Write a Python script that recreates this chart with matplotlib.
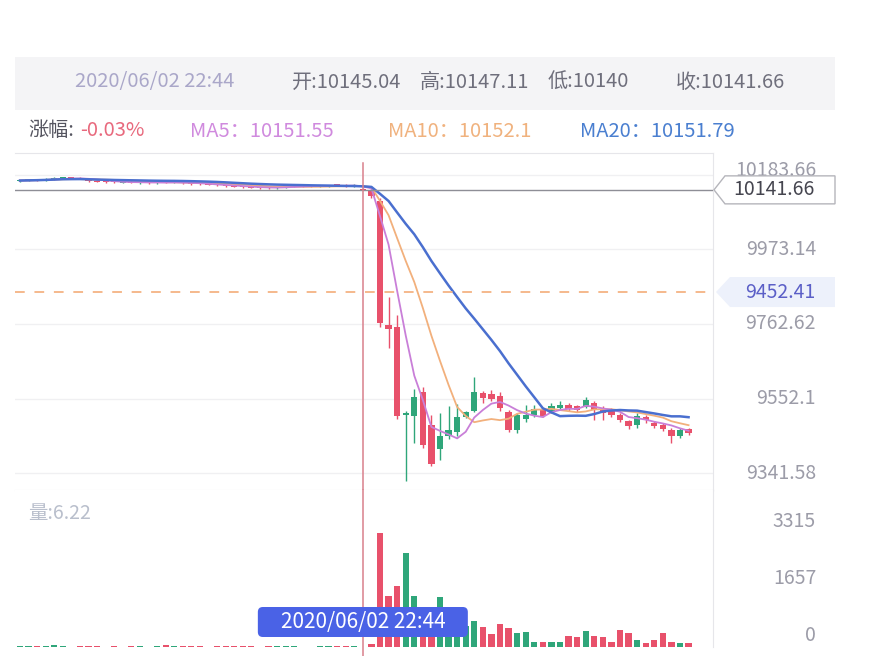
import matplotlib
matplotlib.use("Agg")
import matplotlib.pyplot as plt
from matplotlib.patches import Rectangle, Polygon, FancyBboxPatch
from matplotlib.transforms import IdentityTransform, blended_transform_factory
import pandas as pd

plt.rcParams['font.family'] = ['Noto Sans CJK SC', 'DejaVu Sans']

W, H = 880, 656
RED = "#e8516b"; GREEN = "#2fa67a"
MA5C = "#c97fd8"; MA10C = "#f2b07c"; MA20C = "#4a6fcf"
GRID = "#f0f0f2"; SEP = "#e6e6ea"; AXTXT = "#9c9ca8"

# ---- 1-minute candles (index 40 = crosshair 22:44) ----
opens = [10167, 10168, 10171, 10170, 10172, 10175, 10177, 10175, 10170, 10167,
         10166, 10165, 10162, 10165, 10161, 10164, 10160, 10164, 10162, 10163,
         10161, 10159, 10158, 10156, 10154, 10152, 10151, 10150, 10149, 10148,
         10147, 10150, 10152, 10155, 10154, 10151, 10152, 10155, 10155, 10153,
         10145.04, 10141.66,
         10110, 9760, 9755, 9505, 9504, 9570, 9476, 9410, 9445, 9457,
         9500, 9517, 9567, 9566, 9558, 9515, 9462, 9495, 9506, 9521,
         9514, 9525, 9535, 9530, 9528, 9540, 9520, 9518, 9505, 9488,
         9476, 9500, 9482, 9478, 9462, 9447, 9466]
highs = [10170, 10171, 10173, 10174, 10177, 10178, 10179, 10177, 10172, 10169,
         10168, 10167, 10166, 10167, 10165, 10166, 10164, 10166, 10166, 10165,
         10163, 10161, 10160, 10158, 10156, 10154, 10153, 10152, 10151, 10150,
         10151, 10155, 10156, 10157, 10156, 10155, 10156, 10157, 10157, 10157,
         10147.11, 10143,
         10120, 9840, 9788, 9518, 9580, 9585, 9505, 9510, 9532, 9537,
         9518, 9614, 9572, 9575, 9570, 9520, 9512, 9535, 9535, 9526,
         9540, 9545, 9540, 9535, 9555, 9546, 9530, 9524, 9510, 9492,
         9512, 9505, 9488, 9482, 9468, 9468, 9470]
lows = [10165, 10166, 10168, 10168, 10170, 10173, 10172, 10171, 10164, 10163,
        10162, 10161, 10160, 10160, 10159, 10159, 10158, 10161, 10160, 10158,
        10156, 10155, 10154, 10152, 10150, 10149, 10147, 10146, 10145, 10145,
        10145, 10148, 10150, 10151, 10150, 10149, 10150, 10152, 10151, 10151,
        10140, 10118,
        9755, 9695, 9495, 9318, 9425, 9413, 9362, 9378, 9438, 9447,
        9497, 9514, 9540, 9545, 9518, 9458, 9455, 9487, 9500, 9500,
        9510, 9520, 9518, 9515, 9525, 9490, 9492, 9500, 9485, 9465,
        9470, 9484, 9470, 9460, 9425, 9440, 9450]
closes = [10168, 10169, 10170, 10172, 10175, 10176, 10174, 10173, 10166, 10165,
          10164, 10163, 10164, 10162, 10163, 10161, 10162, 10163, 10164, 10160,
          10158, 10157, 10156, 10154, 10152, 10151, 10149, 10148, 10147, 10147,
          10149, 10153, 10154, 10153, 10152, 10153, 10154, 10154, 10153, 10155,
          10141.66, 10125,
          9765, 9748, 9503, 9512, 9556, 9420, 9368, 9447, 9462, 9500,
          9513, 9570, 9553, 9552, 9524, 9462, 9505, 9505, 9522, 9504,
          9532, 9535, 9522, 9520, 9548, 9520, 9510, 9505, 9490, 9474,
          9503, 9490, 9475, 9466, 9446, 9462, 9456]
volumes = [22, 15, 30, 18, 45, 25, 12, 20, 35, 16,
           14, 28, 10, 19, 24, 12, 30, 52, 15, 20,
           18, 26, 14, 40, 22, 15, 18, 30, 12, 20,
           16, 25, 38, 14, 12, 20, 15, 22, 30, 18,
           6.22, 95,
           3310, 1480, 1772, 2745, 1480, 650, 800, 1440, 700, 633,
           600, 750, 584, 390, 662, 565, 409, 438, 146, 146,
           146, 146, 311, 292, 467, 311, 292, 146, 506, 409,
           214, 117, 214, 409, 146, 117, 117]

price_ticks = [10183.66, 9973.14, 9762.62, 9552.1, 9341.58]
vol_ticks = [3315, 1657, 0]
last_price = 10141.66
cross_idx = 40
cross_price = 9853
cross_label = "9452.41"
cross_time = "2020/06/02 22:44"

n = len(closes)
idx = list(range(n))
s = pd.Series(closes)
ma5 = s.rolling(5, min_periods=1).mean()
ma10 = s.rolling(10, min_periods=1).mean()
ma20 = s.rolling(20, min_periods=1).mean()
cols = [RED if c < o else GREEN for o, c in zip(opens, closes)]

fig = plt.figure(figsize=(W / 100, H / 100), dpi=100)
fig.patch.set_facecolor("white")


def fbox(x0, y0, x1, y1):
    return [x0 / W, 1 - y1 / H, (x1 - x0) / W, (y1 - y0) / H]


def ftxt(x, y, s, **kw):
    fig.text(x / W, 1 - y / H, s, va="center", **kw)


PIX = IdentityTransform()
FS = 14.5

# header band + info rows
fig.patches.append(Rectangle((15, H - 110), 820, 53, fc="#f4f4f6", ec="none",
                             transform=PIX, figure=fig))
ftxt(75, 82, cross_time, color="#aaa7c9", fontsize=FS)
ftxt(292, 82, "开:10145.04", color="#6f6f7c", fontsize=FS)
ftxt(420, 82, "高:10147.11", color="#6f6f7c", fontsize=FS)
ftxt(548, 82, "低:10140", color="#6f6f7c", fontsize=FS)
ftxt(676, 82, "收:10141.66", color="#6f6f7c", fontsize=FS)
ftxt(28, 131, "涨幅:", color="#555560", fontsize=FS)
ftxt(80, 131, "-0.03%", color="#e8697d", fontsize=FS)
ftxt(190, 131, "MA5：10151.55", color="#d08ade", fontsize=FS)
ftxt(388, 131, "MA10：10152.1", color="#f0b27e", fontsize=FS)
ftxt(580, 131, "MA20：10151.79", color="#4a7fd0", fontsize=FS)

# ---- price pane ----
axp = fig.add_axes(fbox(15, 153, 713, 490))
axv = fig.add_axes(fbox(15, 490, 713, 647))
xlim = (-0.58, 80.85)
top_p = price_ticks[0] + 22 / 0.35389
bot_p = price_ticks[-1] - 17 / 0.35389
axp.set_xlim(*xlim); axp.set_ylim(bot_p, top_p)

for t in price_ticks:
    axp.axhline(t, color=GRID, lw=1, zorder=0)

axp.vlines(idx, lows, highs, colors=cols, lw=1, zorder=2)
bodies = [max(abs(c - o), 3) for o, c in zip(opens, closes)]
axp.bar(idx, bodies, bottom=[min(o, c) for o, c in zip(opens, closes)],
        width=0.72, color=cols, zorder=2)

axp.plot(idx, ma10, color=MA10C, lw=1.3, zorder=3)
axp.plot(idx, ma5, color=MA5C, lw=1.3, zorder=3)
axp.plot(idx, ma20, color=MA20C, lw=1.8, zorder=3)

axp.axhline(last_price, color="#8e8e96", lw=1, zorder=4)
axp.axhline(cross_price, color="#f5b98c", lw=1.4, dashes=(5, 5), zorder=4)
axp.axvline(cross_idx, ymax=0.97, color="#d9808c", lw=1.1, zorder=5)

for ax in (axp, axv):
    ax.set_xticks([]); ax.set_yticks([])
    for sp in ax.spines.values():
        sp.set_color(SEP)
    ax.spines["left"].set_visible(False)
axv.spines["top"].set_visible(False)
axv.spines["bottom"].set_visible(False)

trp = blended_transform_factory(fig.transFigure, axp.transData)
for i, t in enumerate(price_ticks):
    axp.annotate(str(t), xy=(816 / W, t), xycoords=trp,
                 xytext=(0, 3 if i == 0 else 0), textcoords="offset points",
                 ha="right", va="center", color=AXTXT, fontsize=14,
                 zorder=1, annotation_clip=False)

# ---- volume pane ----
vol_top = vol_ticks[0] * (647 - 490) / (647 - 533)
axv.set_xlim(*xlim); axv.set_ylim(0, vol_top)
axv.bar(idx, volumes, width=0.72, color=cols)
axv.axvline(cross_idx, ymin=-0.06, ymax=1, color="#d9808c", lw=1.1, clip_on=False)
trv = blended_transform_factory(fig.transFigure, axv.transData)
for t in vol_ticks:
    axv.annotate(str(t), xy=(816 / W, t), xycoords=trv, xytext=(0, 8),
                 textcoords="offset points", ha="right", va="center",
                 color=AXTXT, fontsize=14, annotation_clip=False)
ftxt(28, 513, "量:6.22", color="#b9bfcc", fontsize=14)

# ---- value tags on the right ----
fig.canvas.draw()
def ypix(ax, v):
    return ax.transData.transform((0, v))[1]

yl = ypix(axp, last_price)
fig.patches.append(Polygon([(714, yl), (725, yl + 14), (835, yl + 14), (835, yl - 14),
                            (725, yl - 14)], closed=True, fc="white", ec="#b5b5bb",
                           lw=1, transform=PIX, figure=fig, zorder=5))
fig.text(815 / W, yl / H, f"{last_price:.2f}", ha="right", va="center",
         color="#45454f", fontsize=14, zorder=6)

yc = ypix(axp, cross_price)
fig.patches.append(Polygon([(716, yc), (730, yc + 15), (835, yc + 15), (835, yc - 15),
                            (730, yc - 15)], closed=True, fc="#edf1fb", ec="none",
                           transform=PIX, figure=fig, zorder=5))
fig.text(815 / W, yc / H, cross_label, ha="right", va="center",
         color="#5b5fc7", fontsize=14, zorder=6)

# time tag under the crosshair
xc = axp.transData.transform((cross_idx, 0))[0]
fig.patches.append(FancyBboxPatch((xc - 105, H - 637), 210, 30,
                                  boxstyle="round,pad=0,rounding_size=5",
                                  fc="#4a62e6", ec="none", transform=PIX,
                                  figure=fig, zorder=6))
fig.text(xc / W, (H - 622) / H, cross_time, ha="center", va="center",
         color="white", fontsize=15, zorder=7)

fig.savefig("out.png", dpi=100, facecolor="white")
